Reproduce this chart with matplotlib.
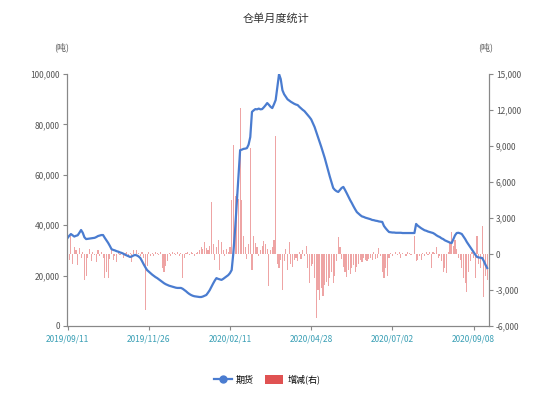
import numpy as np
import matplotlib
matplotlib.use('Agg')
import matplotlib.pyplot as plt
from matplotlib.lines import Line2D
from matplotlib.patches import Patch
from matplotlib.ticker import FuncFormatter

plt.rcParams['font.family'] = ['Noto Sans CJK SC', 'DejaVu Sans']

#x axis labels, one every 48 trading days
x_labels = ['2019/09/11', '2019/11/26', '2020/02/11', '2020/04/28', '2020/07/02', '2020/09/08']
label_step = 48

#warehouse receipts (tons), left axis
receipts = [
    34900, 35800, 36500, 36000, 35500, 35800, 36000, 37000, 38100, 37000,
    35200, 34500, 34600, 34700, 34800, 34900, 35000, 35300, 35700, 35900,
    36100, 36100, 35000, 34000, 33000, 31800, 30500, 30200, 30000, 29700,
    29500, 29200, 29000, 28700, 28300, 28000, 27700, 27400, 27600, 28000,
    28200, 28000, 27600, 27000, 25800, 24500, 23300, 22200, 21600, 21000,
    20400, 19900, 19400, 19000, 18500, 18000, 17500, 17000, 16600, 16300,
    16000, 15800, 15600, 15400, 15200, 15100, 15100, 15100, 14800, 14300,
    13800, 13200, 12700, 12300, 12000, 11800, 11700, 11600, 11500, 11500,
    11700, 12000, 12300, 13200, 14200, 15500, 16800, 18000, 19000, 18700,
    18500, 18300, 18700, 19200, 19700, 20200, 21000, 22200, 29000, 38000,
    48800, 59000, 69800, 70000, 70300, 70400, 70600, 72000, 75000, 85000,
    85600, 86100, 86000, 86300, 86000, 86100, 86800, 87600, 88500, 87800,
    87000, 86500, 88000, 89700, 95000, 100000, 98000, 93600, 92000, 91000,
    90000, 89500, 89000, 88600, 88200, 87900, 87700, 87000, 86400, 85800,
    85300, 84500, 83700, 82900, 82000, 80500, 79000, 77000, 75000, 73000,
    71000, 68800, 66700, 64200, 61700, 59300, 57000, 54800, 54000, 53500,
    53200, 54000, 54800, 55200, 54000, 52700, 51300, 50000, 48800, 47500,
    46300, 45200, 44600, 44000, 43500, 43300, 43000, 42800, 42600, 42400,
    42100, 42000, 41800, 41700, 41500, 41400, 41300, 39700, 38800, 38000,
    37300, 37200, 37100, 37100, 37000, 37000, 37000, 37000, 36900, 36900,
    36900, 36900, 36900, 36900, 36900, 36900, 40500, 39800, 39300, 38800,
    38400, 38000, 37800, 37500, 37300, 37100, 36900, 36500, 36000, 35600,
    35300, 34800, 34500, 34000, 33700, 33400, 33100, 32900, 34500, 36000,
    36900, 37000, 36800, 36500, 35500, 34500, 33300, 32300, 31300, 30300,
    29300, 28300, 27400, 27200, 27100, 27000, 25800, 24300, 23000,
]

#daily change (tons), right axis
change = [
    2600, -500, 1500, -800, 600, 300, -900, 500, -300, 200,
    -2200, -1800, -300, 400, -600, 200, -100, -700, 300, -200,
    150, -300, -2000, -1500, -2000, -400, 300, -500, -200, -700,
    200, -100, 150, -300, 100, 200, -200, 100, -700, 300,
    -150, 300, 100, -200, 150, -300, -4700, -1000, 200, -150,
    100, -200, 150, 100, -100, 200, -1200, -1500, -1000, -600,
    100, -150, 200, 100, -100, 150, -200, 100, -2000, -300,
    100, 200, -100, 150, 100, -200, 100, 200, 300, 600,
    400, 1000, 500, 300, 700, 4300, 800, -500, 600, 1200,
    -1300, 1000, 300, -200, 400, 200, 600, 4500, 9100, 4800,
    5000, 4600, 12200, 4500, 1500, 600, -400, 800, 8800, -1300,
    1500, 900, 600, -200, 300, 700, 1100, 800, 400, -2700,
    300, 600, 1200, 9800, -800, -1200, -500, -3000, -600, 400,
    -1300, 1000, -800, -1100, -500, -300, -600, 200, -400, 300,
    -200, 700, -1200, -2400, -1000, -800, -2000, -5300, -3000, -3800,
    -2800, -3500, -2600, -2300, -2700, -2000, -1500, -2400, -1800, -600,
    1400, 600, -400, -1100, -1500, -1900, -1300, -1700, -1200, -900,
    -1500, -1100, -800, -500, -700, -300, -500, -600, -400, -300,
    -500, 200, -400, -300, 500, -200, -1500, -2000, -1200, -1800,
    -300, 100, -200, 0, 150, -100, 200, -300, 100, 0,
    -150, 200, 100, -100, 0, 1500, -600, -500, -200, -500,
    100, -200, 150, -100, 200, -1200, 200, 100, 600, -300,
    -200, -600, -1500, -1200, -1600, 200, 1000, 1800, 700, 1200,
    400, -300, -500, -1200, -2000, -2400, -3200, -1500, -600, 200,
    -300, -2000, 1500, -800, -1200, 2300, -3600, -1800, -2200,
]

x = np.arange(len(receipts))

fig = plt.figure(figsize=(5.34, 4.15), dpi=100)
ax = fig.add_axes([0.1255, 0.2145, 0.790, 0.607])
ax2 = ax.twinx()

ax2.bar(x, change, width=0.65, color='#e57373', alpha=0.65, linewidth=0)
ax.plot(x, receipts, color='#4a7cd0', linewidth=1.6)

ax.set_zorder(ax2.get_zorder() + 1)
ax.patch.set_visible(False)

ax.set_xlim(-0.3, 249)
ax.set_ylim(0, 100000)
ax.set_yticks(np.arange(0, 100001, 20000))
ax2.set_ylim(-6000, 15000)
ax2.set_yticks(np.arange(-6000, 15001, 3000))

fmt = FuncFormatter(lambda v, p: f'{int(v):,}')
ax.yaxis.set_major_formatter(fmt)
ax2.yaxis.set_major_formatter(fmt)

ax.set_xticks(np.arange(0, label_step * len(x_labels), label_step))
ax.set_xticklabels(x_labels)

for a in (ax, ax2):
    for s in a.spines.values():
        s.set_color('#888888')
        s.set_linewidth(0.8)
    a.spines['top'].set_visible(False)
    a.tick_params(axis='y', labelsize=6, colors='#888888', labelcolor='#555555', length=3, width=0.8, pad=2)
ax.tick_params(axis='x', labelsize=6, colors='#888888', labelcolor='#3a9fb5', length=3, width=0.8, pad=3)

fig.text(0.517, 0.955, '仓单月度统计', ha='center', va='center', fontsize=8, color='#333333')
fig.text(0.115, 0.887, '(吨)', ha='center', va='center', fontsize=6.5, color='#555555')
fig.text(0.91, 0.887, '(吨)', ha='center', va='center', fontsize=6.5, color='#555555')

handles = [Line2D([0], [0], color='#4a7cd0', linewidth=1.6, marker='o', markersize=5),
           Patch(facecolor='#e05252', edgecolor='none')]
fig.legend(handles, ['期货', '增减(右)'], loc='center', bbox_to_anchor=(0.5, 0.085),
           ncol=2, frameon=False, fontsize=6.5, handlelength=2.0, handleheight=1.2,
           columnspacing=1.2, handletextpad=0.5)

fig.savefig('out.png', dpi=100)
